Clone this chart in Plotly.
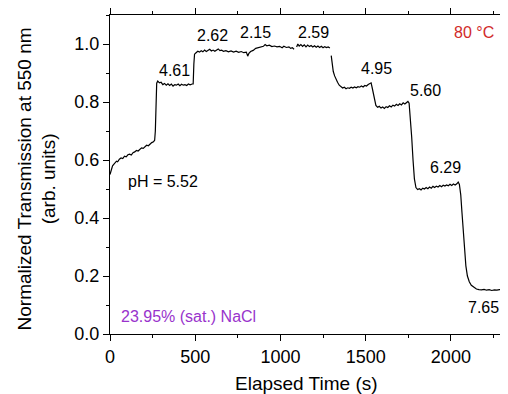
import plotly.graph_objects as go

time_s = [
    0, 8, 15, 22, 30, 38, 45, 55, 65, 75,
    85, 95, 105, 115, 125, 135, 145, 155, 165, 175,
    185, 195, 205, 215, 225, 235, 245, 255, 262, 266,
    270, 274, 280, 290, 300, 310, 320, 330, 340, 350,
    360, 370, 380, 390, 400, 410, 420, 430, 440, 450,
    460, 470, 482, 488, 492, 496, 505, 515, 525, 535,
    545, 555, 565, 575, 585, 595, 605, 615, 625, 635,
    645, 655, 665, 680, 695, 710, 725, 740, 755, 770,
    785, 800, 808, 815, 825, 840, 855, 870, 885, 900,
    910, 920, 935, 950, 965, 980, 995, 1010, 1020, 1035,
    1050, 1060, 1070, 1080, 1087, 1095, 1102, 1110, 1120, 1130,
    1140, 1150, 1160, 1170, 1180, 1190, 1200, 1210, 1220, 1230,
    1240, 1250, 1260, 1270, 1280, 1290, 1294, 1298, 1303, 1310,
    1318, 1325, 1335, 1345, 1355, 1365, 1375, 1385, 1395, 1405,
    1415, 1425, 1435, 1445, 1455, 1465, 1475, 1485, 1495, 1505,
    1515, 1525, 1532, 1538, 1545, 1552, 1560, 1570, 1580, 1590,
    1600, 1610, 1620, 1630, 1640, 1650, 1660, 1670, 1680, 1690,
    1700, 1710, 1720, 1730, 1740, 1748, 1755, 1762, 1770, 1778,
    1786, 1795, 1805, 1815, 1825, 1835, 1845, 1855, 1865, 1875,
    1885, 1895, 1905, 1915, 1925, 1935, 1945, 1955, 1965, 1975,
    1985, 1995, 2005, 2015, 2025, 2035, 2043, 2050, 2058, 2065,
    2072, 2080, 2088, 2097, 2108, 2120, 2135, 2150, 2165, 2180,
    2195, 2210, 2225, 2240, 2255, 2270, 2285, 2300,
]
transmission = [
    0.55, 0.57, 0.58, 0.585, 0.59, 0.596, 0.594, 0.603, 0.607, 0.605,
    0.613, 0.611, 0.618, 0.62, 0.617, 0.625, 0.628, 0.633, 0.631, 0.638,
    0.642, 0.64, 0.647, 0.651, 0.649, 0.656, 0.66, 0.663, 0.668, 0.70,
    0.80, 0.865, 0.872, 0.866, 0.868, 0.86, 0.864, 0.858, 0.863, 0.857,
    0.862, 0.855, 0.86, 0.858, 0.862, 0.856, 0.861, 0.858, 0.86, 0.857,
    0.862, 0.859, 0.862, 0.862, 0.93, 0.965, 0.97, 0.975, 0.972, 0.977,
    0.973, 0.979, 0.974, 0.978, 0.982, 0.976, 0.979, 0.975, 0.978, 0.983,
    0.977, 0.979, 0.975, 0.977, 0.973, 0.976, 0.972, 0.975, 0.971, 0.974,
    0.97, 0.972, 0.958, 0.968, 0.974, 0.978, 0.985, 0.988, 0.99, 0.992,
    0.998, 0.994, 0.996, 0.991, 0.993, 0.99, 0.992, 0.987, 0.992, 0.988,
    0.99, 0.985, 0.987, 0.982, None, 0.99, 1.0, 0.993, 0.998, 0.992,
    0.997, 0.99, 0.996, 0.991, 0.995, 0.99, 0.994, 0.989, 0.993, 0.988,
    0.992, 0.987, 0.991, 0.988, 0.99, 0.986, None, 0.96, 0.93, 0.905,
    0.89, 0.878, 0.868, 0.858, 0.853, 0.848, 0.851, 0.846, 0.849, 0.847,
    0.851, 0.848, 0.852, 0.849, 0.853, 0.851, 0.855, 0.852, 0.857, 0.855,
    0.86, 0.862, 0.866, 0.85, 0.83, 0.81, 0.788, 0.782, 0.785, 0.779,
    0.783, 0.778, 0.784, 0.781, 0.787, 0.783, 0.789, 0.786, 0.792, 0.788,
    0.794, 0.79, 0.797, 0.793, 0.80, 0.802, 0.796, 0.75, 0.68, 0.60,
    0.535, 0.505, 0.498, 0.501, 0.497, 0.503, 0.50, 0.505, 0.501, 0.507,
    0.503, 0.509, 0.505, 0.51, 0.507, 0.512, 0.508, 0.513, 0.51, 0.514,
    0.511, 0.516, 0.512, 0.517, 0.514, 0.518, 0.524, 0.516, 0.48, 0.42,
    0.36, 0.29, 0.235, 0.20, 0.18, 0.168, 0.16, 0.155, 0.153, 0.152,
    0.154, 0.151, 0.153, 0.15, 0.152, 0.151, 0.153, 0.152,
]

ph_labels = ["pH = 5.52", "4.61", "2.62", "2.15", "2.59", "4.95", "5.60", "6.29", "7.65"]
ph_x = [312, 376, 600, 853, 1194, 1565, 1853, 1971, 2194]
ph_y = [0.526, 0.907, 1.028, 1.04, 1.04, 0.917, 0.838, 0.574, 0.093]

x_ticks = [0, 500, 1000, 1500, 2000]
y_ticks = [0.0, 0.2, 0.4, 0.6, 0.8, 1.0]

x_title = "Elapsed Time (s)"
y_title = "Normalized Transmission at 550 nm<br>(arb. units)"

FONT = "Liberation Sans, Arial, sans-serif"

fig = go.Figure()
fig.add_trace(go.Scatter(x=time_s, y=transmission, mode="lines",
                         line=dict(color="black", width=1.2), connectgaps=False,
                         showlegend=False))

for t, xv, yv in zip(ph_labels, ph_x, ph_y):
    fig.add_annotation(x=xv, y=yv, text=t, showarrow=False,
                       font=dict(size=16, color="black", family=FONT))

fig.add_annotation(x=2265, y=1.04, text="80 °C", showarrow=False, xanchor="right",
                   font=dict(size=16, color="#d12a2a", family=FONT))
fig.add_annotation(x=55, y=0.06, text="23.95% (sat.) NaCl", showarrow=False, xanchor="left",
                   font=dict(size=16, color="#9933cc", family=FONT))

# axis titles
fig.add_annotation(xref="paper", yref="paper", x=0.5, y=-0.154, text=x_title,
                   showarrow=False, xanchor="center", yanchor="middle",
                   font=dict(size=19, color="black", family=FONT))
fig.add_annotation(xref="paper", yref="paper", x=-0.1875, y=0.486, text=y_title,
                   showarrow=False, xanchor="center", yanchor="middle", textangle=-90,
                   font=dict(size=19, color="black", family=FONT))

axis_common = dict(showline=True, linecolor="black", linewidth=1, mirror="ticks",
                   ticks="outside", ticklen=6, tickwidth=1, tickcolor="black",
                   showgrid=False, zeroline=False, automargin=False,
                   tickfont=dict(size=18, color="black", family=FONT))

fig.update_xaxes(range=[0, 2300], tickvals=x_ticks,
                 minor=dict(ticks="outside", ticklen=3, dtick=250, tick0=0, tickcolor="black"),
                 **axis_common)
fig.update_yaxes(range=[0, 1.1], tickvals=y_ticks, tickformat=".1f",
                 minor=dict(ticks="outside", ticklen=3, dtick=0.1, tick0=0, tickcolor="black"),
                 **axis_common)

# page body has an 8px margin, so the figure is sized to fit the 508x394 window
fig.update_layout(width=500, height=386, margin=dict(l=102, r=6, t=7, b=60),
                  plot_bgcolor="white", paper_bgcolor="white",
                  font=dict(family=FONT, color="black"))

fig.write_html("out.html")
